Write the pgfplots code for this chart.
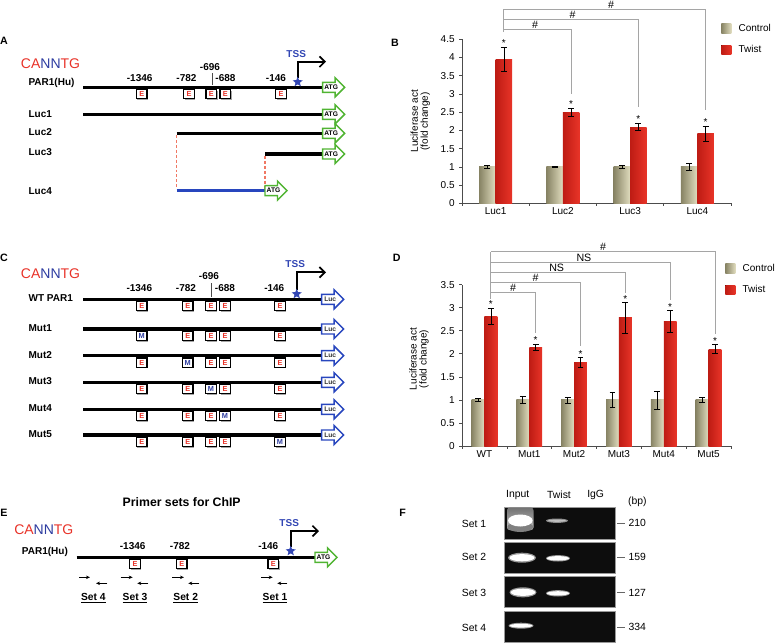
\documentclass[border=0pt]{standalone}
\usepackage{fontspec}
\setmainfont{Liberation Sans}
\usepackage{pgfplots}
\pgfplotsset{compat=1.18}
\usetikzlibrary{arrows.meta,shapes.geometric}

\definecolor{ctrlL}{RGB}{135,131,100}
\definecolor{ctrlR}{RGB}{224,220,190}
\definecolor{twL}{RGB}{190,28,20}
\definecolor{twR}{RGB}{232,52,40}
\definecolor{motred}{RGB}{232,50,40}
\definecolor{motblue}{RGB}{45,60,160}
\definecolor{tssblue}{RGB}{50,70,180}
\definecolor{atggreen}{RGB}{80,180,50}
\definecolor{lucblue}{RGB}{40,70,190}
\definecolor{dashred}{RGB}{240,120,100}
\definecolor{brgray}{RGB}{165,165,165}

\pgfplotsset{
  ebars/.style={error bars/.cd, y dir=both, y explicit,
    error bar style={black, line width=0.5pt},
    error mark options={rotate=90, black, mark size=2.2pt, line width=0.5pt}},
  ctrlB/.style={ybar, bar width=0.245, bar shift=0, draw=none, left color=ctrlL, right color=ctrlR, ebars},
  twB/.style={ybar, bar width=0.245, bar shift=0, draw=none, left color=twL, right color=twR, ebars},
  ctrlD/.style={ybar, bar width=0.287, bar shift=0, draw=none, left color=ctrlL, right color=ctrlR, ebars},
  twD/.style={ybar, bar width=0.287, bar shift=0, draw=none, left color=twL, right color=twR, ebars},
  brk/.style={forget plot, brgray, line width=0.7pt, mark=none},
}

\newcommand\fsz[1]{\fontsize{#1}{#1}\selectfont}
\newcommand\motif{\textcolor{motred}{CA}\textcolor{motblue}{NN}\textcolor{motred}{TG}}
\newcommand\atg[2]{%
  \draw[atggreen, line width=1.1pt, fill=white, line join=miter]
    (#1,#2-5) -- (#1+12.5,#2-5) -- (#1+12.5,#2-9.5) -- (#1+22,#2) -- (#1+12.5,#2+9.5) -- (#1+12.5,#2+5) -- (#1,#2+5) -- cycle;
  \node[font=\bfseries\fsz{5}, inner sep=0pt] at (#1+8.5,#2) {ATG};}
\newcommand\lucarr[2]{%
  \draw[lucblue, line width=1.1pt, fill=white, line join=miter]
    (#1,#2-5) -- (#1+12.5,#2-5) -- (#1+12.5,#2-9.5) -- (#1+22,#2) -- (#1+12.5,#2+9.5) -- (#1+12.5,#2+5) -- (#1,#2+5) -- cycle;
  \node[font=\bfseries\fsz{5}, inner sep=0pt, text=black!80] at (#1+8.5,#2) {Luc};}
\newcommand\ebox[4]{%
  \fill[black!35] (#1-4.35,#2+3.2) rectangle (#1+6.35,#2+12.5);
  \draw[black, line width=0.9pt, fill=white] (#1-5.35,#2+2.2) rectangle (#1+5.35,#2+11.5);
  \node[font=\bfseries\fsz{5.5}, text=#4, inner sep=0pt] at (#1,#2+7) {#3};}
\newcommand\tss[4]{% x, ystart, ytop, xend
  \draw[line width=1.3pt, line join=miter, -{Straight Barb[length=4pt,width=8pt]}] (#1,#2) -- (#1,#3) -- (#4,#3);
  \node[star, star points=5, star point ratio=2.3, fill=tssblue, inner sep=0pt, minimum size=8pt] at (#1,#2+4) {};
  \node[font=\bfseries\fsz{7.5}, text=tssblue] at (#1-1.5,#3-8) {TSS};}

\begin{document}
\begin{tikzpicture}
\begin{scope}[x=0.75pt,y=-0.75pt]
\useasboundingbox (0,0) rectangle (778,643);

% ---------------- Panel A
\node[font=\bfseries\fsz{8}] at (4,41) {A};
\node[anchor=west,inner sep=0pt,font=\fsz{10.5}] at (20.7,63.3) {\motif};
\node[anchor=west,inner sep=0pt,font=\bfseries\fsz{7.5}] at (28.3,83.3) {PAR1(Hu)};
\draw[line width=2.5pt] (83.3,87.3) -- (322.7,87.3);
\atg{322.7}{87.3}
\ebox{141.7}{87.3}{E}{motred}
\ebox{189}{87.3}{E}{motred}
\ebox{211.3}{87.3}{E}{motred}
\ebox{225.3}{87.3}{E}{motred}
\ebox{281}{87.3}{E}{motred}
\begin{scope}[every node/.style={font=\bfseries\fsz{7.5},inner sep=0pt}]
\node at (139.7,78.3) {-1346};
\node at (186.5,78.3) {-782};
\node at (210,66.7) {-696};
\node at (225.5,78.3) {-688};
\node at (276,78.3) {-146};
\end{scope}
\draw[line width=0.5pt, black!70] (212,73) -- (212,85);
\tss{297.7}{78}{61.7}{326}
\begin{scope}[every node/.style={anchor=west,inner sep=0pt,font=\bfseries\fsz{7.5}}]
\node at (28.3,114.3) {Luc1};
\node at (28.3,132.3) {Luc2};
\node at (28.3,151.7) {Luc3};
\node at (28.3,190.7) {Luc4};
\end{scope}
\draw[line width=2.5pt] (83.3,114.3) -- (322.7,114.3);
\atg{322.7}{114.3}
\draw[line width=2.5pt] (176.7,133.3) -- (322.7,133.3);
\atg{322.7}{133.3}
\draw[line width=2.5pt] (265,154) -- (322.7,154);
\atg{322.7}{154}
\draw[dashred, line width=0.8pt, dash pattern=on 2.2pt off 1.5pt] (176.7,135) -- (176.7,189);
\draw[dashred, line width=0.8pt, dash pattern=on 2.2pt off 1.5pt] (265,156) -- (265,189);
\draw[line width=2.5pt, color=lucblue] (176.7,190.7) -- (265,190.7);
\atg{265}{190.7}

% ---------------- Panel C
\node[font=\bfseries\fsz{8}] at (4,258.3) {C};
\node[anchor=west,inner sep=0pt,font=\fsz{10.5}] at (20.7,273.3) {\motif};
\begin{scope}[every node/.style={font=\bfseries\fsz{7.5},inner sep=0pt}]
\node at (139.3,288.3) {-1346};
\node at (186,288.3) {-782};
\node at (209,275.7) {-696};
\node at (225,288.3) {-688};
\node at (274.3,288.3) {-146};
\end{scope}
\draw[line width=0.5pt, black!70] (211,283) -- (211,296.7);
\tss{296.7}{290}{272.3}{326}
\foreach \yy/\lab/\m in {299.3/WT PAR1/0, 329/Mut1/1, 355.7/Mut2/2, 382.3/Mut3/3, 409.3/Mut4/4, 435/Mut5/5} {
  \node[anchor=west,inner sep=0pt,font=\bfseries\fsz{7.5}] at (28.3,\yy-1) {\lab};
  \draw[line width=2.5pt] (83.3,\yy) -- (321.7,\yy);
  \lucarr{321.7}{\yy}
  \foreach \xx [count=\k] in {141.7,187.7,211,225,280} {
    \ifnum\k=\m\relax \ebox{\xx}{\yy}{M}{motblue}\else \ebox{\xx}{\yy}{E}{motred}\fi
  }
}

% ---------------- Panel E
\node[font=\bfseries\fsz{9.2}] at (181.7,502.3) {Primer sets for ChIP};
\node[font=\bfseries\fsz{8}] at (4,513.3) {E};
\node[anchor=west,inner sep=0pt,font=\fsz{10.5}] at (14,530) {\motif};
\node[anchor=west,inner sep=0pt,font=\bfseries\fsz{7.5}] at (21.7,551.7) {PAR1(Hu)};
\draw[line width=2.5pt] (76.7,557.3) -- (315,557.3);
\atg{315}{557.3}
\ebox{135}{557.3}{E}{motred}
\ebox{181.7}{557.3}{E}{motred}
\ebox{273.3}{557.3}{E}{motred}
\begin{scope}[every node/.style={font=\bfseries\fsz{7.5},inner sep=0pt}]
\node at (132.7,546) {-1346};
\node at (180,546) {-782};
\node at (268.3,546) {-146};
\end{scope}
\tss{290.7}{547}{531}{319}
\foreach \a/\b in {79/90,120.7/132.7,172.3/184,261/272.7}
  {\draw[line width=0.6pt,-{Stealth[length=3pt,width=2.6pt]}] (\a,577.3) -- (\b,577.3);}
\foreach \a/\b in {107.3/96,148.3/137.3,199.3/188.3,287.3/277.3}
  {\draw[line width=0.6pt,-{Stealth[length=3pt,width=2.6pt]}] (\a,583.3) -- (\b,583.3);}
\begin{scope}[every node/.style={font=\bfseries\fsz{7.7},inner sep=0pt}]
\node at (93.3,598.3) {\underline{Set 4}};
\node at (135,598.3) {\underline{Set 3}};
\node at (185.7,598.3) {\underline{Set 2}};
\node at (275,598.3) {\underline{Set 1}};
\end{scope}

% ---------------- Panel labels B, D
\node[font=\bfseries\fsz{8}] at (395,42.7) {B};
\node[font=\bfseries\fsz{8}] at (396.7,258.3) {D};

% ---------------- Panel F (gel)
\node[font=\bfseries\fsz{8}] at (402.7,513.3) {F};
\begin{scope}[every node/.style={font=\fsz{7.8},inner sep=0pt}]
\node at (517.7,495) {Input};
\node at (559,495) {Twist};
\node at (595.7,495) {IgG};
\node at (637.3,502.3) {(bp)};
\node at (474,524) {Set 1};
\node at (474,557.3) {Set 2};
\node at (474,592.7) {Set 3};
\node at (474,627.7) {Set 4};
\node at (637.3,523.3) {210};
\node at (637.3,557.3) {159};
\node at (637.3,592.7) {127};
\node at (637.3,627.3) {334};
\end{scope}
\foreach \ya/\yb in {507.3/539,542.3/573.3,576.7/607.7,611/642.7}
  {\fill[black!95] (504,\ya) rectangle (615,\yb);
   \draw[black!40,line width=0.4pt] (504,\ya) rectangle (615,\yb);}
\foreach \yy in {523.3,557.3,592.7,627.3} {\draw[black!60,line width=0.5pt] (617,\yy) -- (625,\yy);}
% bands
\shade[top color=black!55, bottom color=black!25, rounded corners=2pt] (507,507.6) rectangle (533.5,530);
\fill[black!50] (520.3,527) ellipse (13 and 5);
\fill[white] (520.3,520.5) ellipse (12.3 and 6);
\fill[black!45] (557,520.7) ellipse (11 and 2.2);
\fill[black!25] (557,520.7) ellipse (9 and 1.1);
\fill[black!40] (522,557.7) ellipse (14 and 5);
\fill[white] (522,557.7) ellipse (12.5 and 3.6);
\fill[black!40] (558,558.3) ellipse (12 and 3.2);
\fill[white] (558,558.3) ellipse (11 and 2.2);
\fill[black!40] (523,592.3) ellipse (13.5 and 5);
\fill[white] (523,592.3) ellipse (12.3 and 3.6);
\fill[black!40] (558,593.3) ellipse (12 and 3.2);
\fill[white] (558,593.3) ellipse (11 and 2.1);
\fill[black!40] (521,625.7) ellipse (12.5 and 3);
\fill[white] (521,625.7) ellipse (11.3 and 1.9);
\end{scope}

% ================= Panel B chart
\begin{axis}[
  at={(346.5pt,-152.475pt)}, anchor=south west, scale only axis,
  width=201.75pt, height=123pt,
  xmin=-0.5, xmax=3.5, ymin=0, ymax=4.5,
  axis lines*=left, axis line style={black!70, line width=0.6pt},
  clip=false,
  ytick={0,0.5,1,1.5,2,2.5,3,3.5,4,4.5},
  xtick={-0.5,0.5,1.5,2.5,3.5}, xticklabels={},
  extra x ticks={0,1,2,3}, extra x tick labels={Luc1,Luc2,Luc3,Luc4},
  extra x tick style={major tick length=0pt},
  tick align=outside, major tick length=2pt,
  tick style={black!70, line width=0.5pt},
  ticklabel style={font=\fsz{7.5}},
  /pgf/number format/assume math mode=true,
  ylabel={Luciferase act\\(fold change)},
  ylabel style={at={(axis description cs:-0.155,0.5)}, anchor=center, align=center, font=\fsz{7.5}},
  legend style={at={(axis description cs:0.963,1.112)}, anchor=north west, draw=none, fill=none,
    font=\fsz{7.5}, row sep=5pt, inner sep=0pt},
  legend cell align=left,
  legend image code/.code={\fill[#1] (0pt,-3.4pt) rectangle (7.5pt,3.4pt); \path (0pt,0pt) -- (11pt,0pt);},
]
\addplot[ctrlB] coordinates {(-0.1225,1) +- (0,0.045)};
\addlegendentry{Control}
\addplot[twB] coordinates {(0.1225,3.95) +- (0,0.33)};
\addlegendentry{Twist}
\addplot[forget plot, ctrlB] coordinates {(0.8775,1) +- (0,0.01)};
\addplot[forget plot, ctrlB] coordinates {(1.8775,1) +- (0,0.035)};
\addplot[forget plot, ctrlB] coordinates {(2.8775,1) +- (0,0.09)};
\addplot[forget plot, twB] coordinates {(1.1225,2.50) +- (0,0.10)};
\addplot[forget plot, twB] coordinates {(2.1225,2.09) +- (0,0.10)};
\addplot[forget plot, twB] coordinates {(3.1225,1.91) +- (0,0.20)};
\addplot[forget plot, draw=none, mark=none, nodes near coords={*},
  every node near coord/.style={anchor=south, inner sep=0pt, font=\fsz{7.5}, text=black}]
  coordinates {(0.1225,4.30) (1.1225,2.62) (2.1225,2.21) (3.1225,2.12)};
\addplot[brk] coordinates {(0.1225,4.70) (0.1225,5.32)};
\addplot[brk] coordinates {(0.1225,4.775) (1.1225,4.775) (1.1225,3.0)};
\addplot[brk] coordinates {(0.1225,5.05) (2.1225,5.05) (2.1225,2.63)};
\addplot[brk] coordinates {(0.1225,5.32) (3.1225,5.32) (3.1225,2.56)};
\node[font=\fsz{8}, anchor=south, inner sep=0.6pt] at (axis cs:0.585,4.775) {\#};
\node[font=\fsz{8}, anchor=south, inner sep=0.6pt] at (axis cs:1.146,5.05) {\#};
\node[font=\fsz{8}, anchor=south, inner sep=0.6pt] at (axis cs:1.716,5.32) {\#};
\end{axis}

% ================= Panel D chart
\begin{axis}[
  at={(346.5pt,-334.5pt)}, anchor=south west, scale only axis,
  width=201.75pt, height=121pt,
  xmin=-0.5, xmax=5.5, ymin=0, ymax=3.5,
  axis lines*=left, axis line style={black!70, line width=0.6pt},
  clip=false,
  ytick={0,0.5,1,1.5,2,2.5,3,3.5},
  xtick={-0.5,0.5,1.5,2.5,3.5,4.5,5.5}, xticklabels={},
  extra x ticks={0,1,2,3,4,5}, extra x tick labels={WT,Mut1,Mut2,Mut3,Mut4,Mut5},
  extra x tick style={major tick length=0pt},
  tick align=outside, major tick length=2pt,
  tick style={black!70, line width=0.5pt},
  ticklabel style={font=\fsz{7.5}},
  /pgf/number format/assume math mode=true,
  ylabel={Luciferase act\\(fold change)},
  ylabel style={at={(axis description cs:-0.16,0.54)}, anchor=center, align=center, font=\fsz{7.5}},
  legend style={at={(axis description cs:0.978,1.147)}, anchor=north west, draw=none, fill=none,
    font=\fsz{7.5}, row sep=5pt, inner sep=0pt},
  legend cell align=left,
  legend image code/.code={\fill[#1] (0pt,-3.4pt) rectangle (7.5pt,3.4pt); \path (0pt,0pt) -- (11pt,0pt);},
]
\addplot[ctrlD] coordinates {(-0.1435,1) +- (0,0.03)};
\addlegendentry{Control}
\addplot[twD] coordinates {(0.1435,2.82) +- (0,0.17)};
\addlegendentry{Twist}
\addplot[forget plot, ctrlD] coordinates {(0.8565,1) +- (0,0.075)};
\addplot[forget plot, ctrlD] coordinates {(1.8565,1) +- (0,0.065)};
\addplot[forget plot, ctrlD] coordinates {(2.8565,1) +- (0,0.165)};
\addplot[forget plot, ctrlD] coordinates {(3.8565,1) +- (0,0.195)};
\addplot[forget plot, ctrlD] coordinates {(4.8565,1) +- (0,0.055)};
\addplot[forget plot, twD] coordinates {(1.1435,2.14) +- (0,0.07)};
\addplot[forget plot, twD] coordinates {(2.1435,1.815) +- (0,0.105)};
\addplot[forget plot, twD] coordinates {(3.1435,2.78) +- (0,0.33)};
\addplot[forget plot, twD] coordinates {(4.1435,2.70) +- (0,0.24)};
\addplot[forget plot, twD] coordinates {(5.1435,2.10) +- (0,0.10)};
\addplot[forget plot, draw=none, mark=none, nodes near coords={*},
  every node near coord/.style={anchor=south, inner sep=0pt, font=\fsz{7.5}, text=black}]
  coordinates {(0.1435,2.99) (1.1435,2.21) (2.1435,1.92) (3.1435,3.11) (4.1435,2.94) (5.1435,2.20)};
\addplot[brk] coordinates {(0.1435,3.20) (0.1435,4.21)};
\addplot[brk] coordinates {(0.1435,3.33) (1.1435,3.33) (1.1435,2.45)};
\addplot[brk] coordinates {(0.1435,3.54) (2.1435,3.54) (2.1435,2.17)};
\addplot[brk] coordinates {(0.1435,3.77) (3.1435,3.77) (3.1435,3.33)};
\addplot[brk] coordinates {(0.1435,3.98) (4.1435,3.98) (4.1435,3.17)};
\addplot[brk] coordinates {(0.1435,4.21) (5.1435,4.21) (5.1435,2.43)};
\node[font=\fsz{8}, anchor=south, inner sep=0.6pt] at (axis cs:0.638,3.33) {\#};
\node[font=\fsz{8}, anchor=south, inner sep=0.6pt] at (axis cs:1.144,3.54) {\#};
\node[font=\fsz{8}, anchor=south, inner sep=0.6pt] at (axis cs:1.612,3.77) {NS};
\node[font=\fsz{8}, anchor=south, inner sep=0.6pt] at (axis cs:2.22,3.98) {NS};
\node[font=\fsz{8}, anchor=south, inner sep=0.6pt] at (axis cs:2.645,4.21) {\#};
\end{axis}
\end{tikzpicture}
\end{document}
